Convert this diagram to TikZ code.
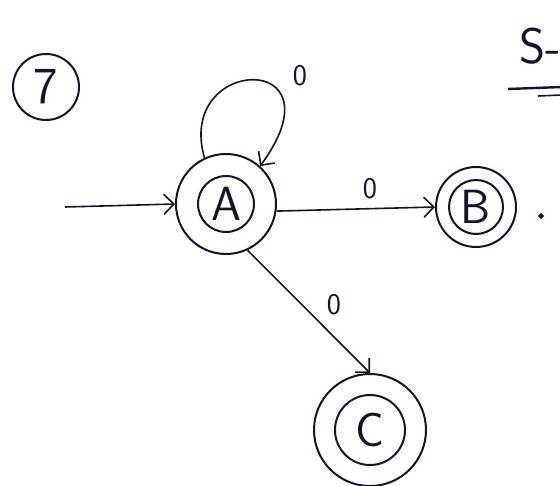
\documentclass[tikz,border=0pt]{standalone}
\usetikzlibrary{arrows.meta}
\definecolor{ink}{RGB}{22,20,40}
\begin{document}
\begin{tikzpicture}[x=1pt,y=-1pt,
  ink/.style={draw=ink, line width=2pt},
  outerring/.style={ink, circle, inner sep=0pt},
  innerring/.style={ink, circle, inner sep=0pt, font=\sffamily\fontsize{48}{48}\selectfont, text=ink},
  edgelabel/.style={font=\sffamily\fontsize{30}{30}\selectfont, text=ink},
  trans/.style={ink, line width=1.6pt, -{Straight Barb[length=10pt,width=20pt,line width=1.6pt]}}]
\useasboundingbox (0,0) rectangle (560,486);
\clip (0,0) rectangle (560,486);
\fill[white] (0,0) rectangle (560,486);

% question number
\node[outerring, minimum size=66pt, font=\sffamily\fontsize{52}{52}\selectfont, text=ink] (q) at (46,87) {7};

% heading fragment at the right edge
\node[font=\sffamily\fontsize{50}{50}\selectfont, text=ink, anchor=west] (hd) at (516,46) {S-};
\coordinate (u1) at (508,89);
\coordinate (u2) at (562,87);
\coordinate (u3) at (538,96);
\coordinate (u4) at (562,95);
\draw[ink, line width=2.4pt] (u1) -- (u2);
\draw[ink, line width=1.6pt] (u3) -- (u4);

% states
\node[outerring, minimum size=100pt] (A) at (226,204) {};
\node[innerring, minimum size=56pt] (Ai) at (A) {A};
\node[outerring, minimum size=80pt] (B) at (476,207) {};
\node[innerring, minimum size=54pt] (Bi) at (B) {B};
\node[outerring, minimum size=112pt] (C) at (370,430) {};
\node[innerring, minimum size=70pt] (Ci) at (C) {C};

% small dot after B
\fill[ink] (541,216) circle (1.6pt);

% start arrow
\coordinate (s) at (65,207);
\draw[trans] (s) -- (A.west);

% self loop on A
\draw[trans] (A.115) .. controls (175,55) and (345,50) .. (A.48);
\node[edgelabel] (l0) at (300,76) {0};

% A to B
\draw[trans] (A.-8) -- (B.west);
\node[edgelabel] (l1) at (370,189) {0};

% A to C
\draw[trans] (A.-65) -- (C.north);
\node[edgelabel] (l2) at (334,305) {0};
\end{tikzpicture}
\end{document}
